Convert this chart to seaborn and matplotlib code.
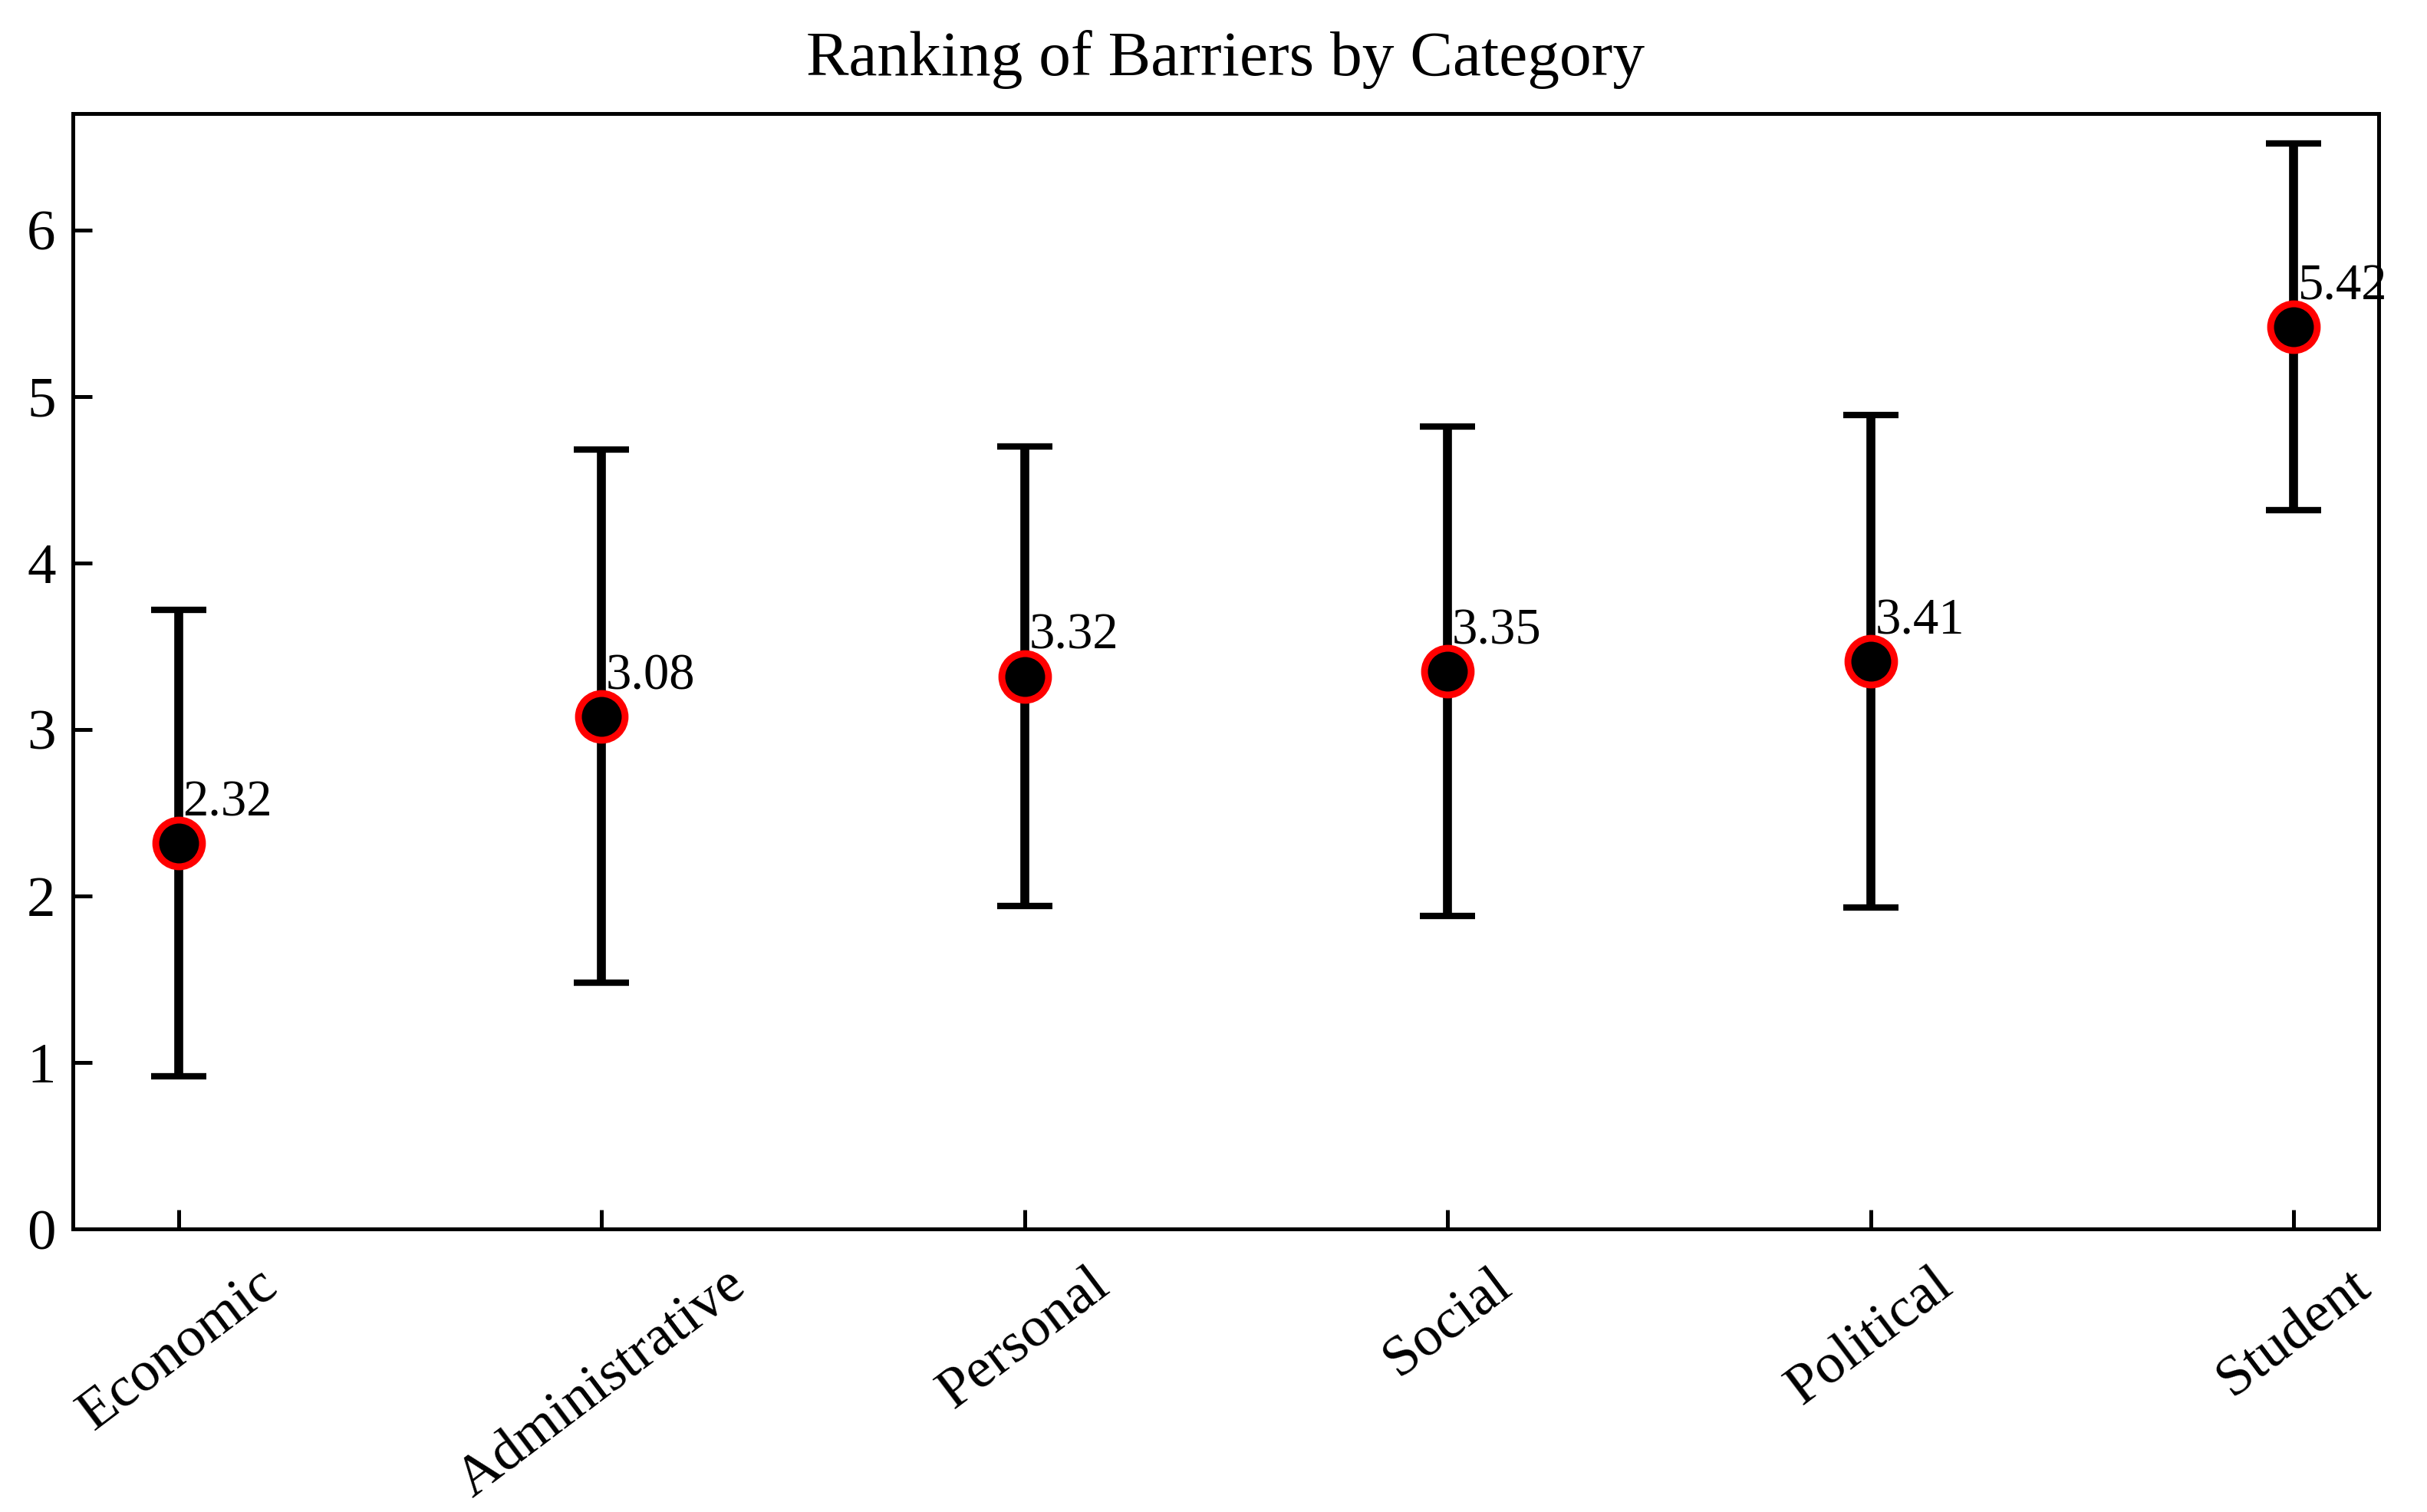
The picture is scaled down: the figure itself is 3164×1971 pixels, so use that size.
import numpy as np
import pandas as pd
import matplotlib
matplotlib.use("Agg")
import matplotlib.pyplot as plt
import seaborn as sns

categories = ["Economic", "Administrative", "Personal", "Social", "Political", "Student"]
means = [2.32, 3.08, 3.32, 3.35, 3.41, 5.42]
sds = [1.40, 1.60, 1.38, 1.47, 1.48, 1.10]

sns.set_theme(style="white")
plt.rcParams['font.family'] = ['Liberation Serif', 'DejaVu Serif']
plt.rcParams['text.color'] = 'black'
plt.rcParams['axes.labelcolor'] = 'black'

df = pd.DataFrame({"Category": categories, "Mean": means, "SD": sds})

fig, ax = plt.subplots(figsize=(15.82, 9.855), dpi=200)
fig.subplots_adjust(left=0.030, right=0.980, top=0.925, bottom=0.187)

xpos = np.arange(len(categories))
ax.errorbar(xpos, df["Mean"], yerr=df["SD"], fmt='none', ecolor='black',
            elinewidth=4.2, capsize=13, capthick=3, zorder=2)
sns.scatterplot(data=df, x="Category", y="Mean", ax=ax, s=480, color='black',
                edgecolor='red', linewidth=3.2, zorder=3, legend=False)

for i, m in enumerate(means):
    ax.text(i + 0.01, m + 0.10, f"{m:.2f}", ha='left', va='bottom', fontsize=24,
            color='black', zorder=4)

ax.set_xlim(-0.25, 5.2)
ax.set_ylim(0, 6.7)
ax.set_yticks(range(0, 7))
ax.set_xticks(xpos)
ax.set_xticklabels(categories, rotation=37, ha='center', fontsize=27)
ax.tick_params(axis='y', labelsize=27)
ax.tick_params(direction='in', length=9, width=1.8, left=True, bottom=True,
               top=False, right=False, colors='black')
ax.tick_params(axis='x', pad=14)
ax.tick_params(axis='y', pad=8)
ax.set_xlabel("")
ax.set_ylabel("")
for sp in ax.spines.values():
    sp.set_visible(True)
    sp.set_color('black')
    sp.set_linewidth(1.8)
ax.set_title("Ranking of Barriers by Category", fontsize=30, pad=18, color='black')

fig.savefig("out.png", dpi=200)
